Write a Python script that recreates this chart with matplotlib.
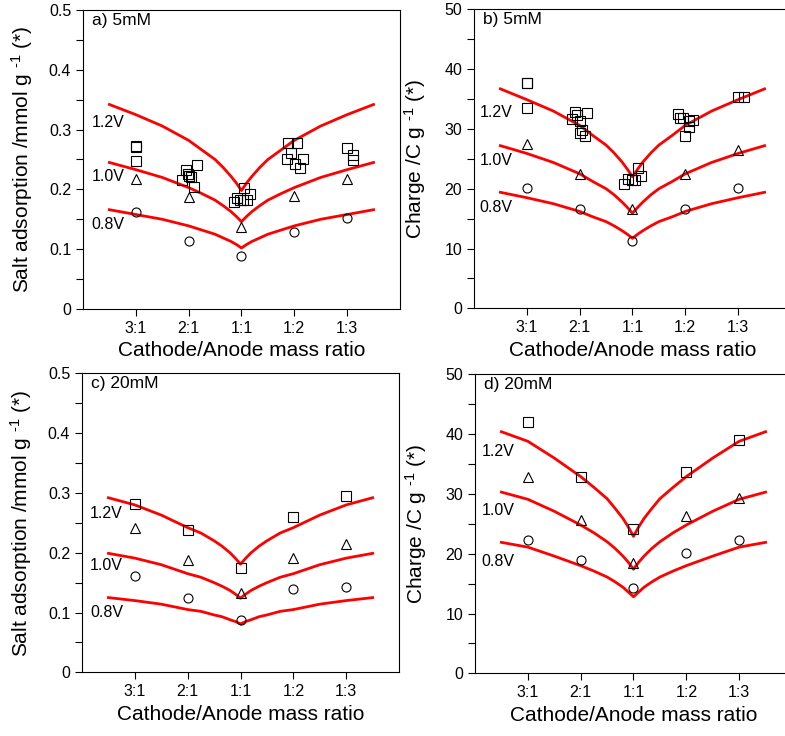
import matplotlib
matplotlib.use("Agg")
import matplotlib.pyplot as plt
import numpy as np

plt.rcParams['font.family'] = ['Liberation Sans', 'DejaVu Sans']
plt.rcParams['mathtext.fontset'] = 'custom'
plt.rcParams['mathtext.rm'] = 'Liberation Sans'
plt.rcParams['mathtext.default'] = 'regular'

ratio_labels = ["3:1", "2:1", "1:1", "1:2", "1:3"]
ratio_pos = [1, 2, 3, 4, 5]
voltages = ["1.2V", "1.0V", "0.8V"]

# model curves (red lines), same x grid for every panel
curve_x = [0.5, 1, 1.5, 2, 2.25, 2.5, 2.65, 2.8, 2.9, 3,
           3.1, 3.2, 3.35, 3.5, 3.75, 4, 4.5, 5, 5.5]

# a) salt adsorption, 5 mM
a_fit_12 = [0.342, 0.325, 0.306, 0.282, 0.266, 0.250, 0.237, 0.222, 0.211, 0.198,
            0.211, 0.222, 0.237, 0.250, 0.266, 0.282, 0.306, 0.325, 0.342]
a_fit_10 = [0.245, 0.233, 0.220, 0.203, 0.193, 0.182, 0.173, 0.163, 0.155, 0.146,
            0.155, 0.163, 0.173, 0.182, 0.193, 0.203, 0.220, 0.233, 0.245]
a_fit_08 = [0.166, 0.158, 0.150, 0.139, 0.132, 0.125, 0.119, 0.113, 0.108, 0.102,
            0.108, 0.113, 0.119, 0.125, 0.132, 0.139, 0.150, 0.158, 0.166]
a_sq_x = [1.0, 1.0, 1.0,
          1.953, 1.997, 2.047, 1.87, 2.155, 2.11, 2.016,
          2.85, 2.913, 2.976, 3.05, 3.153, 3.102, 3.03,
          3.89, 4.06, 3.94, 3.86, 4.006, 4.16, 4.1,
          5.0, 5.12, 5.12]
a_sq_y = [0.273, 0.271, 0.247,
          0.232, 0.226, 0.221, 0.216, 0.240, 0.204, 0.222,
          0.179, 0.185, 0.183, 0.203, 0.193, 0.182, 0.182,
          0.277, 0.277, 0.261, 0.251, 0.243, 0.250, 0.235,
          0.269, 0.257, 0.249]
a_tri = [0.217, 0.187, 0.137, 0.189, 0.217]
a_circ = [0.162, 0.114, 0.089, 0.129, 0.152]

# b) charge, 5 mM
b_fit_12 = [36.7, 34.9, 33.0, 30.6, 28.9, 27.3, 26.0, 24.5, 23.3, 22.0,
            23.3, 24.5, 26.0, 27.3, 28.9, 30.6, 33.0, 34.9, 36.7]
b_fit_10 = [27.2, 25.9, 24.4, 22.5, 21.2, 20.0, 19.0, 17.8, 16.9, 15.9,
            16.9, 17.8, 19.0, 20.0, 21.2, 22.5, 24.4, 25.9, 27.2]
b_fit_08 = [19.4, 18.5, 17.5, 16.2, 15.3, 14.5, 13.8, 13.0, 12.4, 11.7,
            12.4, 13.0, 13.8, 14.5, 15.3, 16.2, 17.5, 18.5, 19.4]
b_sq_x = [1.0, 1.0, 1.0,
          1.903, 1.948, 2.137, 1.853, 2.01, 2.042, 1.998, 2.1,
          2.849, 2.912, 2.994, 3.05, 3.1, 3.164,
          3.857, 3.9, 3.95, 4.077, 4.153, 4.065, 4.002,
          5.0, 5.117]
b_sq_y = [37.7, 37.6, 33.5,
          32.8, 32.4, 32.6, 31.7, 31.4, 29.8, 29.4, 28.9,
          20.8, 21.7, 21.5, 21.5, 23.5, 22.2,
          32.5, 31.9, 31.8, 31.4, 31.5, 30.3, 28.8,
          35.4, 35.4]
b_tri = [27.5, 22.5, 16.6, 22.5, 26.5]
b_circ = [20.2, 16.6, 11.3, 16.6, 20.1]

# c) salt adsorption, 20 mM
c_fit_12 = [0.292, 0.280, 0.263, 0.242, 0.233, 0.220, 0.211, 0.200, 0.191, 0.181,
            0.191, 0.200, 0.211, 0.220, 0.233, 0.242, 0.263, 0.280, 0.292]
c_fit_10 = [0.199, 0.191, 0.180, 0.165, 0.159, 0.150, 0.144, 0.137, 0.131, 0.124,
            0.131, 0.137, 0.144, 0.150, 0.159, 0.165, 0.180, 0.191, 0.199]
c_fit_08 = [0.125, 0.120, 0.114, 0.105, 0.102, 0.096, 0.093, 0.088, 0.085, 0.081,
            0.085, 0.088, 0.093, 0.096, 0.102, 0.105, 0.114, 0.120, 0.125]
c_sq = [0.281, 0.238, 0.174, 0.260, 0.295]
c_tri = [0.241, 0.188, 0.132, 0.192, 0.214]
c_circ = [0.161, 0.125, 0.088, 0.139, 0.142]

# d) charge, 20 mM
d_fit_12 = [40.4, 38.8, 36.0, 32.9, 31.1, 29.2, 27.6, 25.9, 24.5, 22.9,
            24.5, 25.9, 27.6, 29.2, 31.1, 32.9, 36.0, 38.8, 40.4]
d_fit_10 = [30.3, 29.1, 27.1, 24.8, 23.5, 22.0, 20.9, 19.6, 18.6, 17.4,
            18.6, 19.6, 20.9, 22.0, 23.5, 24.8, 27.1, 29.1, 30.3]
d_fit_08 = [21.9, 21.1, 19.6, 18.0, 17.1, 16.1, 15.3, 14.4, 13.6, 12.8,
            13.6, 14.4, 15.3, 16.1, 17.1, 18.0, 19.6, 21.1, 21.9]
d_sq = [42.1, 32.9, 24.1, 33.7, 39.0]
d_tri = [32.9, 25.6, 18.4, 26.3, 29.4]
d_circ = [22.3, 18.9, 14.2, 20.1, 22.3]

salt_label = 'Salt adsorption /mmol g $^{\\text{-1}}$ (*)'
charge_label = 'Charge /C g $^{\\text{-1}}$ (*)'

fig = plt.figure(figsize=(7.85, 7.36), dpi=100)
ax_a = fig.add_axes([0.1057, 0.5802, 0.4038, 0.4062])
ax_b = fig.add_axes([0.6038, 0.5811, 0.4038, 0.4062])
ax_c = fig.add_axes([0.1045, 0.0865, 0.4038, 0.4062])
ax_d = fig.add_axes([0.6051, 0.0852, 0.4038, 0.4062])

panels = [
    (ax_a, "a) 5mM", (a_fit_12, a_fit_10, a_fit_08), (a_sq_x, a_sq_y), a_tri, a_circ,
     0.5, 0.1, salt_label, [0.312, 0.221, 0.142], 0.16, -0.15),
    (ax_b, "b) 5mM", (b_fit_12, b_fit_10, b_fit_08), (b_sq_x, b_sq_y), b_tri, b_circ,
     50, 10, charge_label, [32.8, 24.7, 16.9], 0.11, -0.145),
    (ax_c, "c) 20mM", (c_fit_12, c_fit_10, c_fit_08), (ratio_pos, c_sq), c_tri, c_circ,
     0.5, 0.1, salt_label, [0.266, 0.179, 0.100], 0.15, -0.15),
    (ax_d, "d) 20mM", (d_fit_12, d_fit_10, d_fit_08), (ratio_pos, d_sq), d_tri, d_circ,
     50, 10, charge_label, [37.1, 27.3, 18.7], 0.12, -0.145),
]

for ax, title, fits, sq, tri, circ, ymax, ystep, ylab, vlab_y, vlab_x, ylab_x in panels:
    for fit in fits:
        ax.plot(curve_x, fit, color='#ff0000', lw=2.0, zorder=2)
    ax.plot(sq[0], sq[1], ls='none', marker='s', ms=7, mfc='none', mec='black', mew=0.8, zorder=3)
    ax.plot(ratio_pos, tri, ls='none', marker='^', ms=7, mfc='none', mec='black', mew=0.8, zorder=3)
    ax.plot(ratio_pos, circ, ls='none', marker='o', ms=6.5, mfc='none', mec='black', mew=0.8, zorder=3)
    for lab, yv in zip(voltages, vlab_y):
        ax.text(vlab_x, yv, lab, ha='left', va='center', fontsize=11.5)
    ax.text(0.027, 0.965, title, transform=ax.transAxes, ha='left', va='center', fontsize=12.5)

    ax.set_xlim(0, 6)
    ax.set_ylim(0, ymax)
    ax.set_xticks(ratio_pos)
    ax.set_xticklabels(ratio_labels)
    ax.set_yticks(np.arange(0, ymax + ystep / 2, ystep))
    ax.set_yticks(np.arange(ystep / 2, ymax, ystep), minor=True)
    if ymax < 1:
        ax.set_yticklabels(["0"] + ["%.1f" % v for v in np.arange(ystep, ymax + ystep / 2, ystep)])
    ax.tick_params(axis='both', which='both', direction='out', length=5, width=0.8,
                   labelsize=11.5, top=False, right=False)
    ax.set_xlabel("Cathode/Anode mass ratio", fontsize=15)
    ax.set_ylabel(ylab, fontsize=15)
    ax.yaxis.set_label_coords(ylab_x, 0.5)
    for sp in ax.spines.values():
        sp.set_linewidth(0.8)

# right-hand panels run past the picture edge in the original
ax_b.spines['right'].set_visible(False)
ax_d.spines['right'].set_visible(False)

fig.savefig("out.png", dpi=100)
